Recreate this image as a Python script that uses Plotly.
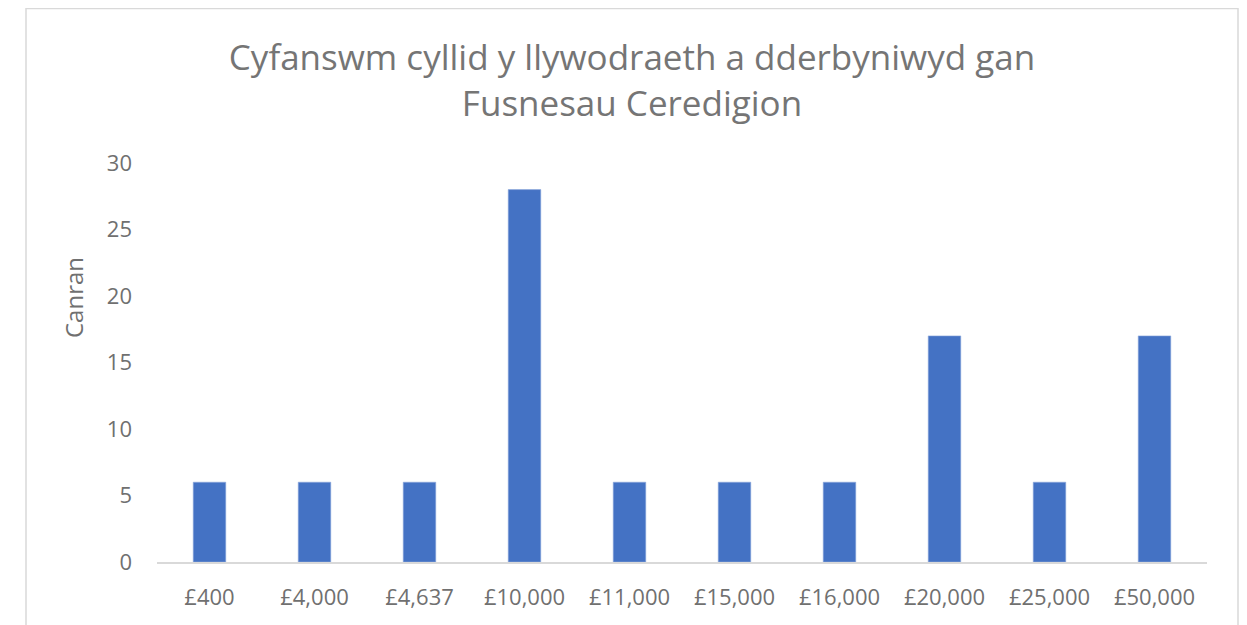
import plotly.graph_objects as go

categories = ["£400", "£4,000", "£4,637", "£10,000", "£11,000", "£15,000", "£16,000", "£20,000", "£25,000", "£50,000"]
values = [6, 6, 6, 28, 6, 6, 6, 17, 6, 17]
y_ticks = [0, 5, 10, 15, 20, 25, 30]

# page body has an 8px margin; compensate
OFF = 8
W, H = 1247 - OFF, 625 - OFF
L, T = 157 - OFF, 163 - OFF
R = W - (1207 - OFF)
B = H - (562 - OFF)
pw = W - L - R
ph = H - T - B

fig = go.Figure(go.Bar(
    x=categories, y=values,
    marker=dict(color="#4472C4", line=dict(color="#8FAADC", width=0.6)),
    width=0.31,
))

font_family = "'Open Sans', sans-serif"
text_col = "#707070"
fig.update_layout(
    width=W, height=H,
    margin=dict(l=L, r=R, t=T, b=B),
    paper_bgcolor="white", plot_bgcolor="white",
    font=dict(family=font_family, color=text_col),
    title=dict(
        text="Cyfanswm cyllid y llywodraeth a dderbyniwyd gan<br>Fusnesau Ceredigion",
        x=(632 - OFF) / W, xanchor="center", y=1 - (70 - OFF) / H, yanchor="middle",
        font=dict(size=35, color="#757575", family=font_family),
    ),
    showlegend=False,
)
fig.update_xaxes(
    showgrid=False, showline=True, linecolor="#D9D9D9", linewidth=1.5,
    ticks="", ticklabelstandoff=15, tickfont=dict(size=22, color=text_col),
)
fig.update_yaxes(
    range=[0, 30], tickvals=y_ticks, showgrid=False, zeroline=False,
    showline=False, ticks="", ticklabelstandoff=24,
    tickfont=dict(size=22, color=text_col),
)
fig.add_annotation(
    text="Canran", textangle=-90, xref="paper", yref="paper",
    x=(73 - 157) / pw, y=(562 - 298) / ph, xanchor="center", yanchor="middle",
    showarrow=False, font=dict(size=24, color=text_col),
)
fig.add_shape(
    type="rect", xref="paper", yref="paper",
    x0=(26 - 157) / pw, x1=(1238 - 157) / pw,
    y0=-200 / ph, y1=(562 - OFF - 0.5) / ph,
    line=dict(color="#D9D9D9", width=1.5), fillcolor="rgba(0,0,0,0)", layer="below",
)
fig.write_html("out.html")
